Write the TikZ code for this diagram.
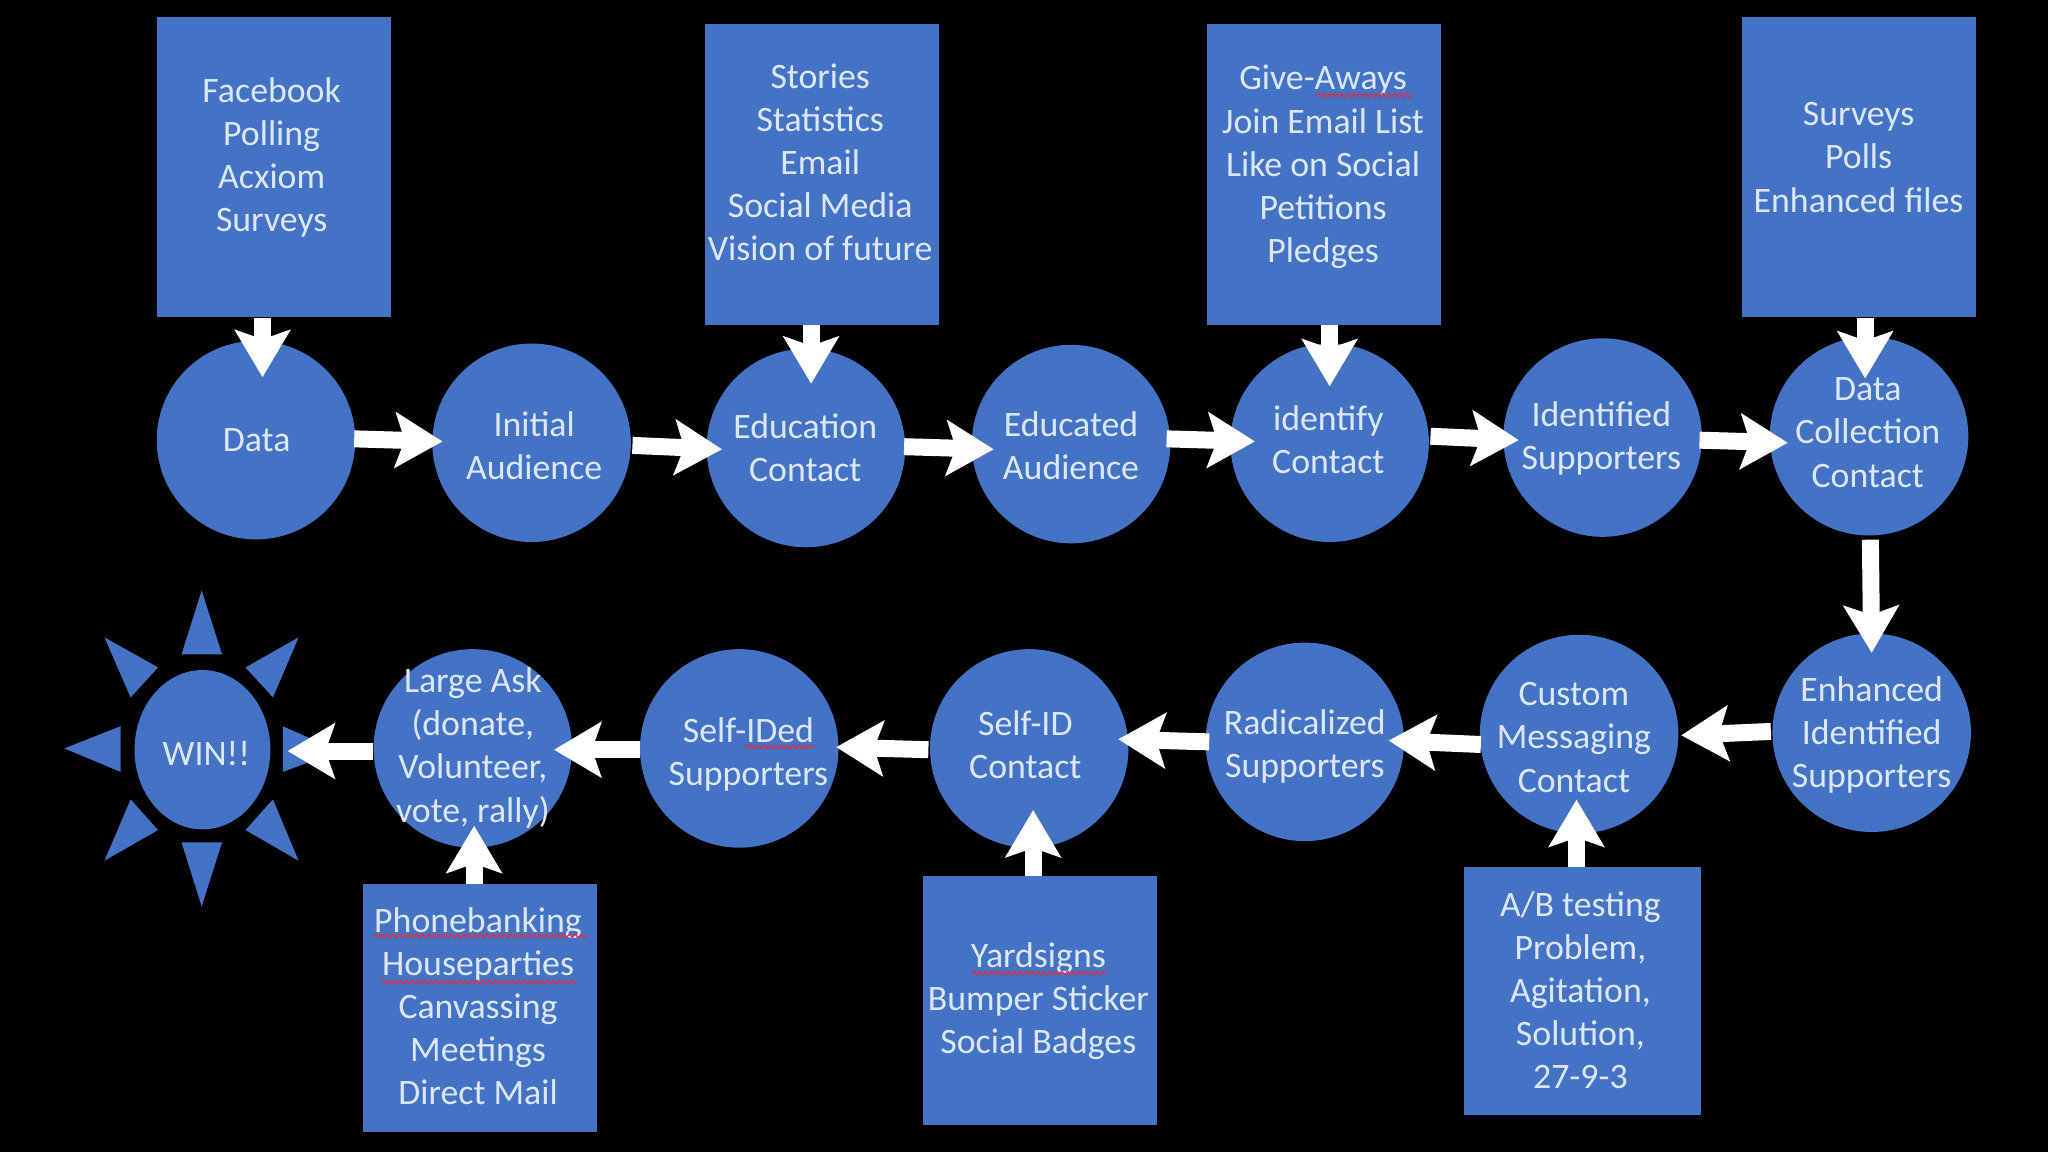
\documentclass[tikz,border=0pt]{standalone}
\usepackage{fontspec}
\setmainfont{Carlito}
\usepackage{tikz}
\usetikzlibrary{shapes.geometric}
\usetikzlibrary{arrows.meta}
\usetikzlibrary{decorations.pathmorphing}

\definecolor{shapeblue}{HTML}{4472C4}
\definecolor{lettering}{HTML}{DDE8F7}
\definecolor{squiggle}{HTML}{D8324A}

% text lines of a shape, moved by dx and dy from its centre
\newcommand{\tlines}[3]{\raisebox{#2pt}[0pt][0pt]{\makebox[0pt]{\hspace*{#1pt}\hspace*{#1pt}\begin{tabular}{@{}c@{}}#3\end{tabular}}}}

\tikzset{
	disc/.style={circle,fill=shapeblue,inner sep=0pt,minimum size=152pt,text=lettering,font=\fontsize{27.4}{33}\selectfont},
	infobox/.style={rectangle,fill=shapeblue,inner sep=0pt,minimum width=179pt,minimum height=230pt,text=lettering,font=\fontsize{27.4}{33}\selectfont},
	flow/.style={draw=white,line width=13pt,-{Stealth[length=36pt,width=42pt,inset=7pt]}},
	spellmark/.style={draw=squiggle,line width=1pt,decorate,decoration={snake,amplitude=1.4pt,segment length=4.5pt}}
}

\begin{document}
\begin{tikzpicture}[x=1pt,y=-1pt]
		\fill[black] (0,0) rectangle (1568,882);
		\useasboundingbox (0,0) rectangle (1568,882);

		% Sun rays
		\fill[shapeblue] (154.4,452) -- (139,501) -- (170,501) -- cycle;
		\fill[shapeblue] (154.4,694) -- (139,645) -- (170,645) -- cycle;
		\fill[shapeblue] (49.3,573) -- (92.3,556) -- (92.3,591) -- cycle;
		\fill[shapeblue] (259.5,575) -- (216.5,556) -- (216.5,591) -- cycle;
		\fill[shapeblue] (80,488) -- (121,511) -- (100,534) -- cycle;
		\fill[shapeblue] (228.6,488) -- (188,511) -- (209,534) -- cycle;
		\fill[shapeblue] (80,659) -- (121,635.5) -- (100,612) -- cycle;
		\fill[shapeblue] (228.6,659) -- (188,635.5) -- (209,612) -- cycle;
		\node[ellipse,fill=shapeblue,inner sep=0pt,minimum width=104pt,minimum height=122pt,text=lettering,font=\fontsize{27.4}{33}\selectfont] (win) at (155,574) {\tlines{3}{-12}{WIN!!}};

		% Top row
		\node[disc] (data) at (196,337) {\tlines{0.5}{-8}{Data}};
		\node[disc] (initial) at (407,339) {\tlines{2}{-11}{Initial\\Audience}};
		\node[disc] (education) at (617,343) {\tlines{-0.5}{-8.5}{Education\\Contact}};
		\node[disc] (educated) at (820,340) {\tlines{0}{-10}{Educated\\Audience}};
		\node[disc] (identify) at (1018,339) {\tlines{-1}{-6.5}{identify\\Contact}};
		\node[disc] (identified) at (1227,335) {\tlines{-1}{-7.5}{Identified\\Supporters}};
		\node[disc] (datacoll) at (1431,334) {\tlines{-1}{-5.5}{Data\\Collection\\Contact}};

		% Bottom row
		\node[disc] (enhanced) at (1433,561) {\tlines{0}{-8.5}{Enhanced\\Identified\\Supporters}};
		\node[disc] (custom) at (1209,562) {\tlines{-4}{-11}{Custom\\Messaging\\Contact}};
		\node[disc] (radicalized) at (999,568) {\tlines{0}{-10.5}{Radicalized\\Supporters}};
		\node[disc] (selfidc) at (788,573) {\tlines{-3}{-6}{Self-ID\\Contact}};
		\node[disc] (selfided) at (566,573) {\tlines{7}{-11.5}{Self-IDed\\Supporters}};
		\node[disc] (large) at (362,573) {\tlines{0}{-6.5}{Large Ask\\(donate,\\Volunteer,\\vote, rally)}};

		% Boxes
		\node[infobox] (fb) at (209.5,128) {\tlines{-1.5}{0.5}{Facebook\\Polling\\Acxiom\\Surveys}};
		\node[infobox] (stories) at (629.5,133.5) {\tlines{-1.5}{0.5}{Stories\\Statistics\\Email\\Social Media\\Vision of future}};
		\node[infobox] (give) at (1013.5,133.5) {\tlines{-0.5}{-1}{Give-Aways\\Join Email List\\Like on Social\\Petitions\\Pledges}};
		\node[infobox] (surveys) at (1423.5,128) {\tlines{-0.5}{-1}{Surveys\\Polls\\Enhanced files}};
		\node[infobox,minimum height=190pt] (phone) at (367.5,772) {\tlines{-1.5}{-7.5}{Phonebanking\\Houseparties\\Canvassing\\Meetings\\Direct Mail}};
		\node[infobox,minimum height=190pt] (yard) at (796.5,766) {\tlines{-1.5}{-7}{Yardsigns\\Bumper Sticker\\Social Badges}};
		\node[infobox,minimum width=181pt,minimum height=190pt] (ab) at (1211.5,759) {\tlines{-1.5}{-8}{A/B testing\\Problem,\\Agitation,\\Solution,\\27-9-3}};

		% Spelling marks
		\draw[spellmark] (1008,73) -- (1081,73);
		\draw[spellmark] (570,572) -- (623,572);
		\draw[spellmark] (286,716.5) -- (450,716.5);
		\draw[spellmark] (292,752) -- (442,752);
		\draw[spellmark] (744,745) -- (848,745);

		% Arrows along the top row
		\draw[flow] ([shift={(-1,-1)}]data.east) -- ([shift={(8,-1)}]initial.west);
		\draw[flow] ([shift={(1,2)}]initial.east) -- ([shift={(12,1)}]education.west);
		\draw[flow] ([shift={(-1,-1)}]education.east) -- ([shift={(17,4)}]educated.west);
		\draw[flow] ([shift={(-3,-4)}]educated.east) -- ([shift={(19,-1)}]identify.west);
		\draw[flow] ([shift={(1,-5)}]identify.east) -- ([shift={(12,2)}]identified.west);
		\draw[flow] ([shift={(-2,2)}]identified.east) -- ([shift={(14,5)}]datacoll.west);
		\draw[flow] ([shift={(1,3)}]datacoll.south) -- ([shift={(0,15)}]enhanced.north);

		% Arrows along the bottom row
		\draw[flow] ([shift={(-1,-1)}]enhanced.west) -- ([shift={(2,1)}]custom.east);
		\draw[flow] ([shift={(1,8)}]custom.west) -- ([shift={(-12,-1)}]radicalized.east);
		\draw[flow] ([shift={(3,0)}]radicalized.west) -- ([shift={(-8,-7)}]selfidc.east);
		\draw[flow] ([shift={(-1,1)}]selfidc.west) -- ([shift={(-2,-1)}]selfided.east);
		\draw[flow] ([shift={(0,1)}]selfided.west) -- ([shift={(-14,1)}]large.east);
		\draw[flow] ([shift={(0,2)}]large.west) -- ([shift={(13,1)}]win.east);

		% Arrows out of the boxes
		\draw[flow] ([shift={(-8.5,0)}]fb.south) -- ([shift={(5,28)}]data.north);
		\draw[flow] ([shift={(-8.5,0)}]stories.south) -- ([shift={(4,27)}]education.north);
		\draw[flow] ([shift={(4.5,0)}]give.south) -- ([shift={(0,33)}]identify.north);
		\draw[flow] ([shift={(4.5,0)}]surveys.south) -- ([shift={(-3,32)}]datacoll.north);
		\draw[flow] ([shift={(-4.5,0)}]phone.north) -- ([shift={(1,-17)}]large.south);
		\draw[flow] ([shift={(-5.5,0)}]yard.north) -- ([shift={(3,-29)}]selfidc.south);
		\draw[flow] ([shift={(-4.5,0)}]ab.north) -- ([shift={(-2,-26)}]custom.south);
	\end{tikzpicture}
\end{document}
